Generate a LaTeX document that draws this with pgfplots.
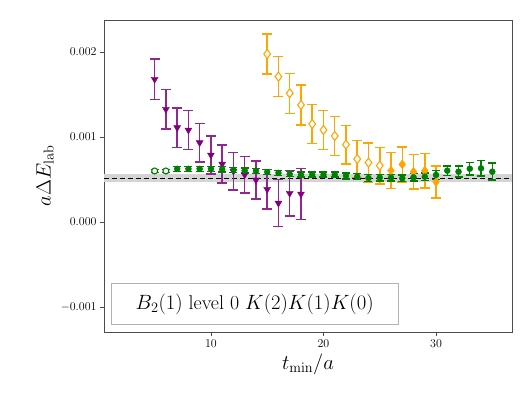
\documentclass[border=0pt]{standalone}
\usepackage{pgfplots}
\pgfplotsset{compat=1.18}
\definecolor{mpurple}{RGB}{128,0,128}
\definecolor{morange}{RGB}{255,165,0}
\definecolor{mgreen}{RGB}{0,128,0}
\begin{document}
\begin{tikzpicture}
\begin{axis}[
    scale only axis,
    width=408bp, height=312bp,
    xmin=0.5, xmax=36.75,
    ymin=-0.001294, ymax=0.002376,
    xtick={10,20,30},
    ytick={-0.001,0,0.001,0.002},
    scaled y ticks=false,
    yticklabel style={/pgf/number format/.cd, fixed, fixed zerofill, precision=3},
    tick label style={font=\fontsize{13}{15}\selectfont},
    tick align=outside,
    tick pos=left,
    major tick length=4bp,
    axis line style={black!70, line width=0.9bp},
    every tick/.style={black!70, line width=0.8bp},
    xlabel={$t_{\rm min}/a$},
    ylabel={$a\Delta E_{\rm lab}$},
    label style={font=\fontsize{20}{24}\selectfont},
    clip=true,
    error bars/y dir=both,
    error bars/y explicit,
]
\coordinate (o) at (rel axis cs:0,0);
% fit band
\addplot[fill=black!17, draw=none, forget plot] coordinates {(0.5,0.000473) (36.75,0.000473) (36.75,0.000559) (0.5,0.000559)};
\addplot[black, dash pattern=on 5bp off 3bp, line width=1.2bp, forget plot] coordinates {(0.5,0.000516) (36.75,0.000516)};
% purple
\addplot[only marks, mpurple, mark=triangle*, mark size=4bp, mark options={rotate=180},
    error bars/error bar style={mpurple!85, line width=1.5bp},
    error bars/error mark options={rotate=90, mark size=5bp, line width=1.5bp}]
  coordinates {
  (5,0.001679) +- (0,0.000239)
  (6,0.001326) +- (0,0.000233)
  (7,0.001110) +- (0,0.000231)
  (8,0.001082) +- (0,0.000229)
  (9,0.000933) +- (0,0.000227)
  (10,0.000788) +- (0,0.000224)
  (11,0.000682) +- (0,0.000221)
  (12,0.000598) +- (0,0.000221)
  (13,0.000555) +- (0,0.000216)
  (14,0.000494) +- (0,0.000225)
  (15,0.000385) +- (0,0.000233)
  (16,0.000222) +- (0,0.000276)
  (17,0.000338) +- (0,0.000265)
  (18,0.000329) +- (0,0.000298)
  };
% orange open
\addplot[only marks, morange, mark=diamond*, mark size=4.5bp, mark options={fill=white, line width=1.1bp},
    error bars/error bar style={morange, line width=1.5bp},
    error bars/error mark options={rotate=90, mark size=5bp, line width=1.5bp}]
  coordinates {
  (15,0.001976) +- (0,0.000235)
  (16,0.001710) +- (0,0.000235)
  (17,0.001514) +- (0,0.000235)
  (18,0.001376) +- (0,0.000233)
  (19,0.001153) +- (0,0.000231)
  (20,0.001082) +- (0,0.000231)
  (21,0.001012) +- (0,0.000231)
  (22,0.000910) +- (0,0.000227)
  (23,0.000741) +- (0,0.000220)
  (24,0.000698) +- (0,0.000231)
  (25,0.000663) +- (0,0.000216)
  };
% orange filled
\addplot[only marks, morange, mark=diamond*, mark size=4.5bp,
    error bars/error bar style={morange, line width=1.5bp},
    error bars/error mark options={rotate=90, mark size=5bp, line width=1.5bp}]
  coordinates {
  (26,0.000604) +- (0,0.000212)
  (27,0.000678) +- (0,0.000206)
  (28,0.000592) +- (0,0.000204)
  (29,0.000604) +- (0,0.000202)
  (30,0.000471) +- (0,0.000188)
  };
% green open
\addplot[only marks, mgreen, mark=*, mark size=3bp, mark options={fill=white, line width=1.1bp},
    error bars/error bar style={mgreen, line width=1.4bp},
    error bars/error mark options={rotate=90, mark size=4bp, line width=1.4bp}]
  coordinates {
  (5,0.000600) +- (0,0.00002)
  (6,0.000600) +- (0,0.00002)
  };
% green filled
\addplot[only marks, mgreen, mark=*, mark size=3bp,
    error bars/error bar style={mgreen, line width=1.4bp},
    error bars/error mark options={rotate=90, mark size=4bp, line width=1.4bp}]
  coordinates {
  (7,0.000625) +- (0,0.00003)
  (8,0.000625) +- (0,0.00003)
  (9,0.000625) +- (0,0.00003)
  (10,0.000625) +- (0,0.00003)
  (11,0.000620) +- (0,0.00003)
  (12,0.000612) +- (0,0.00003)
  (13,0.000604) +- (0,0.00003)
  (14,0.000600) +- (0,0.00003)
  (15,0.000588) +- (0,0.00003)
  (16,0.000578) +- (0,0.00003)
  (17,0.000563) +- (0,0.00003)
  (18,0.000557) +- (0,0.00003)
  (19,0.000557) +- (0,0.00003)
  (20,0.000557) +- (0,0.00003)
  (21,0.000557) +- (0,0.00003)
  (22,0.000543) +- (0,0.000035)
  (23,0.000533) +- (0,0.000035)
  (24,0.000517) +- (0,0.00004)
  (25,0.000522) +- (0,0.00004)
  (26,0.000522) +- (0,0.00004)
  (27,0.000514) +- (0,0.00004)
  (28,0.000526) +- (0,0.000045)
  (29,0.000533) +- (0,0.000045)
  (30,0.000553) +- (0,0.00005)
  (31,0.000604) +- (0,0.000055)
  (32,0.000592) +- (0,0.000065)
  (33,0.000627) +- (0,0.000076)
  (34,0.000631) +- (0,0.00009)
  (35,0.000592) +- (0,0.0001)
  };
\node[draw=black!30, line width=0.9bp, fill=white, anchor=south west, inner xsep=6bp,
      minimum height=41bp, minimum width=287bp, font=\fontsize{20}{24}\selectfont]
  at (rel axis cs:0.0164,0.0224) {$B_2(1)$ level 0 $K(2)K(1)K(0)$};
\end{axis}
\path (o) ++(-104bp,-67bp) rectangle ++(532bp,399bp);
\end{tikzpicture}
\end{document}
